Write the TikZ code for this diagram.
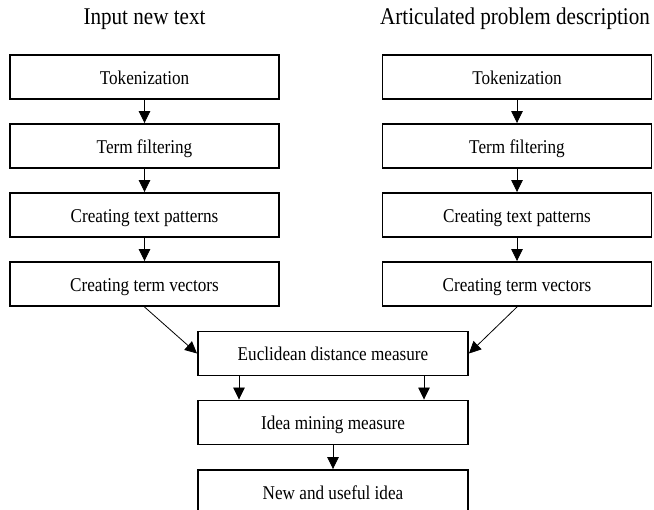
\documentclass[tikz,border=0pt]{standalone}
\usepackage{fontspec}
\setmainfont{Liberation Serif}[FakeStretch=0.88]
\usetikzlibrary{arrows.meta}
\begin{document}
\begin{tikzpicture}[x=1bp,y=-1bp,
  stage/.style={draw, line width=1.9bp, minimum width=269bp, minimum height=44bp,
    inner sep=0pt, text height=14.5bp, text depth=0pt,
    font=\fontsize{19.5bp}{22bp}\selectfont},
  heading/.style={anchor=base, inner sep=0pt, font=\fontsize{24bp}{28bp}\selectfont},
  flow/.style={line width=0.8bp, -{Triangle[length=12bp,width=11.5bp]}}]
  \useasboundingbox (0,0) rectangle (654,510);
  \clip (0,0) rectangle (654,510);

  % column headings
  \node[heading] (hl) at (144.5,25) {Input new text};
  \node[heading] (hr) at (515,25) {Articulated problem description};

  % left pipeline
  \node[stage] (lt) at (144.5,77)  {Tokenization};
  \node[stage] (lf) at (144.5,146) {Term filtering};
  \node[stage] (lp) at (144.5,215) {Creating text patterns};
  \node[stage] (lv) at (144.5,284) {Creating term vectors};

  % right pipeline
  \node[stage] (rt) at (517,77)  {Tokenization};
  \node[stage] (rf) at (517,146) {Term filtering};
  \node[stage] (rp) at (517,215) {Creating text patterns};
  \node[stage] (rv) at (517,284) {Creating term vectors};

  % merged stages
  \node[stage, minimum width=270bp] (euc)  at (333,353.5) {Euclidean distance measure};
  \node[stage, minimum width=270bp] (idea) at (333,422.5) {Idea mining measure};
  \node[stage, minimum width=270bp] (out)  at (333,492)   {New and useful idea};

  % connectors
  \draw[flow] (lt) -- (lf);
  \draw[flow] (lf) -- (lp);
  \draw[flow] (lp) -- (lv);
  \draw[flow] (rt) -- (rf);
  \draw[flow] (rf) -- (rp);
  \draw[flow] (rp) -- (rv);
  \draw[flow] (lv.south) -- (euc.west);
  \draw[flow] (rv.south) -- (euc.east);
  \draw[flow] ([xshift=-94bp]euc.south) -- ([xshift=-94bp]idea.north);
  \draw[flow] ([xshift=91bp]euc.south) -- ([xshift=91bp]idea.north);
  \draw[flow] (idea) -- (out);
\end{tikzpicture}
\end{document}
